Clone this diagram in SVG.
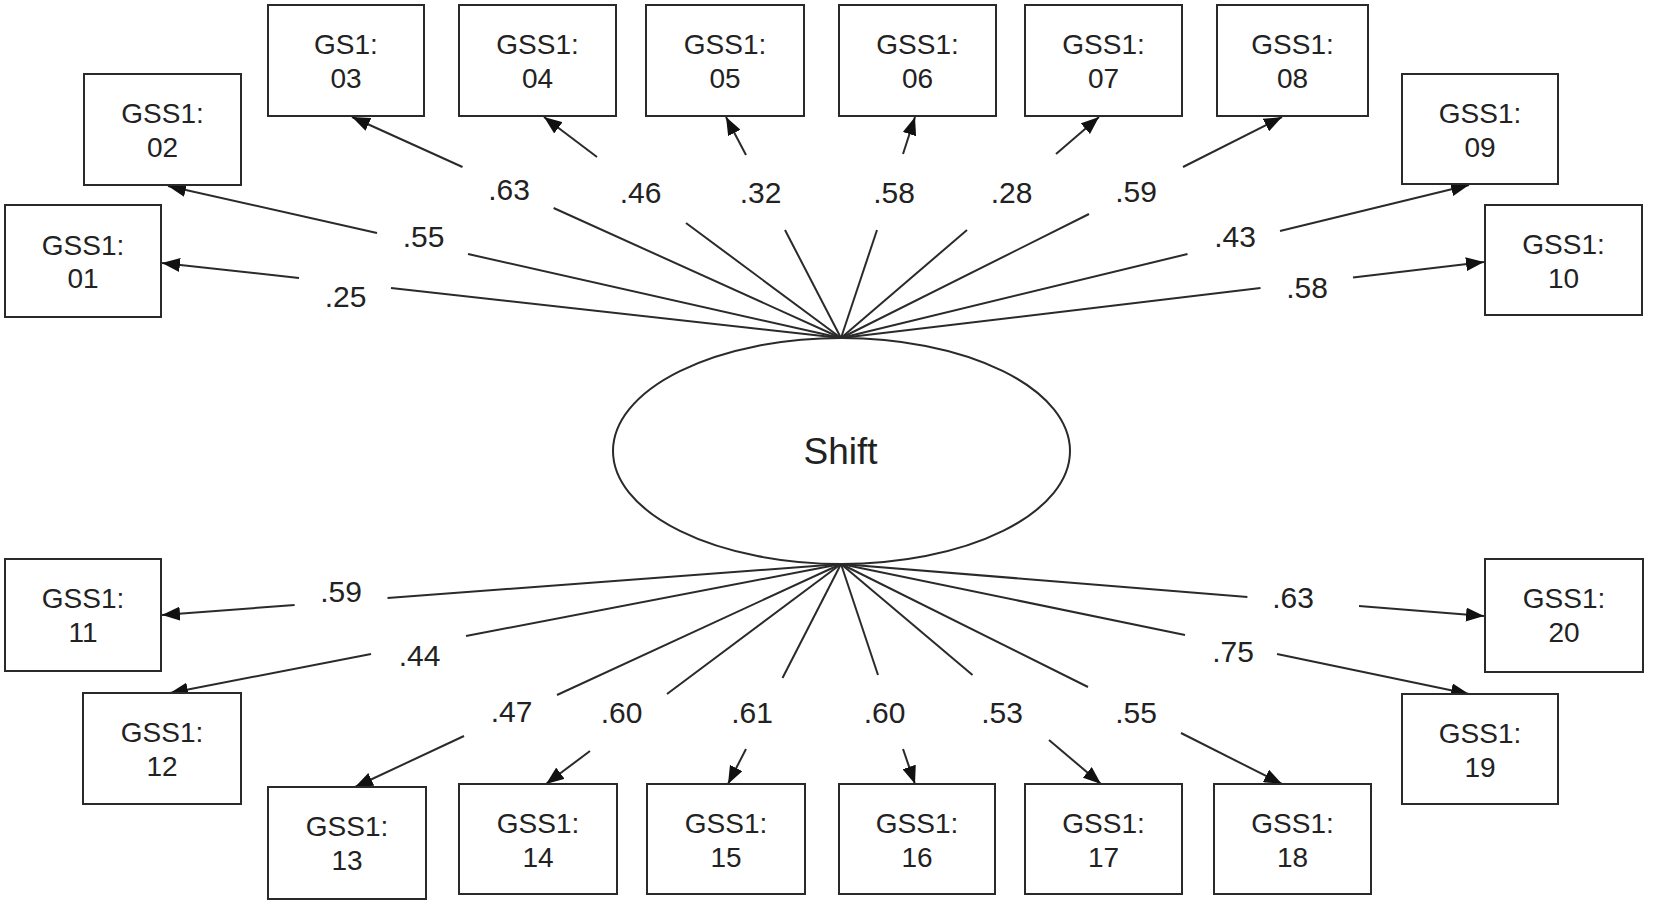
<svg xmlns="http://www.w3.org/2000/svg" width="1653" height="907" viewBox="0 0 1653 907">
<style>
.box rect{fill:#fff;stroke:#2a2a2a;stroke-width:2}
.box text{font-family:"Liberation Sans",Arial,sans-serif;font-size:28px;fill:#222;text-anchor:middle}
.lbl{font-family:"Liberation Sans",Arial,sans-serif;font-size:30px;fill:#222;text-anchor:middle}
#connectors line{stroke:#2a2a2a;stroke-width:2}
#connectors line.h{marker-end:url(#arr)}
</style>
<defs>
<marker id="arr" markerWidth="18" markerHeight="14" refX="18" refY="7" orient="auto" markerUnits="userSpaceOnUse"><path d="M0,0 L18,7 L0,14 z" fill="#111"/></marker>
</defs>
<rect width="1653" height="907" fill="#fff"/>
<g id="connectors">
<line x1="841" y1="338" x2="391" y2="288"/><line class="h" x1="299" y1="278" x2="162" y2="263"/>
<line x1="841" y1="338" x2="468" y2="254"/><line class="h" x1="377" y1="233" x2="168" y2="186"/>
<line x1="841" y1="338" x2="553.6" y2="208"/><line class="h" x1="462.5" y1="167" x2="352" y2="117"/>
<line x1="841" y1="338" x2="686" y2="223"/><line class="h" x1="597" y1="157" x2="544" y2="117"/>
<line x1="841" y1="338" x2="785" y2="230"/><line class="h" x1="746" y1="155" x2="726" y2="117"/>
<line x1="841" y1="338" x2="877" y2="230"/><line class="h" x1="903" y1="154" x2="915" y2="117"/>
<line x1="841" y1="338" x2="967" y2="230"/><line class="h" x1="1056" y1="154" x2="1099" y2="117"/>
<line x1="841" y1="338" x2="1089" y2="214"/><line class="h" x1="1183" y1="167" x2="1282" y2="117"/>
<line x1="841" y1="338" x2="1187.5" y2="254"/><line class="h" x1="1280" y1="231" x2="1469" y2="185"/>
<line x1="841" y1="338" x2="1260.5" y2="288"/><line class="h" x1="1353" y1="277.5" x2="1484" y2="262"/>
<line x1="841" y1="564" x2="387.5" y2="598"/><line class="h" x1="294.6" y1="605" x2="162" y2="615"/>
<line x1="841" y1="564" x2="466" y2="636"/><line class="h" x1="371" y1="654" x2="170" y2="693"/>
<line x1="841" y1="564" x2="557" y2="695"/><line class="h" x1="464" y1="736" x2="355" y2="787"/>
<line x1="841" y1="564" x2="667" y2="694"/><line class="h" x1="590" y1="751" x2="546" y2="784"/>
<line x1="841" y1="564" x2="782.5" y2="678"/><line class="h" x1="746" y1="749" x2="728" y2="784"/>
<line x1="841" y1="564" x2="878" y2="675"/><line class="h" x1="903" y1="749" x2="915" y2="784"/>
<line x1="841" y1="564" x2="972.5" y2="675"/><line class="h" x1="1049" y1="740" x2="1101" y2="784"/>
<line x1="841" y1="564" x2="1088" y2="687"/><line class="h" x1="1181" y1="733" x2="1282" y2="784"/>
<line x1="841" y1="564" x2="1185" y2="635"/><line class="h" x1="1277" y1="654" x2="1469" y2="694"/>
<line x1="841" y1="564" x2="1247.4" y2="597"/><line class="h" x1="1359" y1="606" x2="1484" y2="616"/>
</g>
<g id="labels">
<text class="lbl" x="345.5" y="307">.25</text>
<text class="lbl" x="423.5" y="247">.55</text>
<text class="lbl" x="509" y="200">.63</text>
<text class="lbl" x="640.5" y="203">.46</text>
<text class="lbl" x="760.5" y="203">.32</text>
<text class="lbl" x="894" y="203">.58</text>
<text class="lbl" x="1011.5" y="203">.28</text>
<text class="lbl" x="1136" y="202">.59</text>
<text class="lbl" x="1235" y="247">.43</text>
<text class="lbl" x="1307" y="298">.58</text>
<text class="lbl" x="341" y="602">.59</text>
<text class="lbl" x="419.5" y="666">.44</text>
<text class="lbl" x="511.5" y="722">.47</text>
<text class="lbl" x="621.5" y="723">.60</text>
<text class="lbl" x="752" y="723">.61</text>
<text class="lbl" x="884.5" y="723">.60</text>
<text class="lbl" x="1002" y="723">.53</text>
<text class="lbl" x="1136" y="723">.55</text>
<text class="lbl" x="1233" y="662">.75</text>
<text class="lbl" x="1293" y="608">.63</text>
</g>
<g id="shift">
<ellipse cx="841.5" cy="451" rx="228.5" ry="113" fill="#fff" stroke="#2a2a2a" stroke-width="2"/>
<text x="840.5" y="464" font-family="Liberation Sans, Arial, sans-serif" font-size="37" fill="#222" text-anchor="middle">Shift</text>
</g>
<g id="gss01" class="box"><rect x="5" y="205" width="156" height="112"/><text x="83" y="255">GSS1:</text><text x="83" y="288">01</text></g>
<g id="gss02" class="box"><rect x="84" y="74" width="157" height="111"/><text x="162.5" y="123">GSS1:</text><text x="162.5" y="157">02</text></g>
<g id="gs03" class="box"><rect x="268" y="5" width="156" height="111"/><text x="346" y="54">GS1:</text><text x="346" y="88">03</text></g>
<g id="gss04" class="box"><rect x="459" y="5" width="157" height="111"/><text x="537.5" y="54">GSS1:</text><text x="537.5" y="88">04</text></g>
<g id="gss05" class="box"><rect x="646" y="5" width="158" height="111"/><text x="725" y="54">GSS1:</text><text x="725" y="88">05</text></g>
<g id="gss06" class="box"><rect x="839" y="5" width="157" height="111"/><text x="917.5" y="54">GSS1:</text><text x="917.5" y="88">06</text></g>
<g id="gss07" class="box"><rect x="1025" y="5" width="157" height="111"/><text x="1103.5" y="54">GSS1:</text><text x="1103.5" y="88">07</text></g>
<g id="gss08" class="box"><rect x="1217" y="5" width="151" height="111"/><text x="1292.5" y="54">GSS1:</text><text x="1292.5" y="88">08</text></g>
<g id="gss09" class="box"><rect x="1402" y="74" width="156" height="110"/><text x="1480" y="123">GSS1:</text><text x="1480" y="157">09</text></g>
<g id="gss10" class="box"><rect x="1485" y="205" width="157" height="110"/><text x="1563.5" y="254">GSS1:</text><text x="1563.5" y="288">10</text></g>
<g id="gss11" class="box"><rect x="5" y="559" width="156" height="112"/><text x="83" y="608">GSS1:</text><text x="83" y="642">11</text></g>
<g id="gss12" class="box"><rect x="83" y="693" width="158" height="111"/><text x="162" y="742">GSS1:</text><text x="162" y="776">12</text></g>
<g id="gss13" class="box"><rect x="268" y="787" width="158" height="112"/><text x="347" y="836">GSS1:</text><text x="347" y="870">13</text></g>
<g id="gss14" class="box"><rect x="459" y="784" width="158" height="110"/><text x="538" y="833">GSS1:</text><text x="538" y="867">14</text></g>
<g id="gss15" class="box"><rect x="647" y="784" width="158" height="110"/><text x="726" y="833">GSS1:</text><text x="726" y="867">15</text></g>
<g id="gss16" class="box"><rect x="839" y="784" width="156" height="110"/><text x="917" y="833">GSS1:</text><text x="917" y="867">16</text></g>
<g id="gss17" class="box"><rect x="1025" y="784" width="157" height="110"/><text x="1103.5" y="833">GSS1:</text><text x="1103.5" y="867">17</text></g>
<g id="gss18" class="box"><rect x="1214" y="784" width="157" height="110"/><text x="1292.5" y="833">GSS1:</text><text x="1292.5" y="867">18</text></g>
<g id="gss19" class="box"><rect x="1402" y="694" width="156" height="110"/><text x="1480" y="743">GSS1:</text><text x="1480" y="777">19</text></g>
<g id="gss20" class="box"><rect x="1485" y="559" width="158" height="113"/><text x="1564" y="608">GSS1:</text><text x="1564" y="642">20</text></g>
</svg>
